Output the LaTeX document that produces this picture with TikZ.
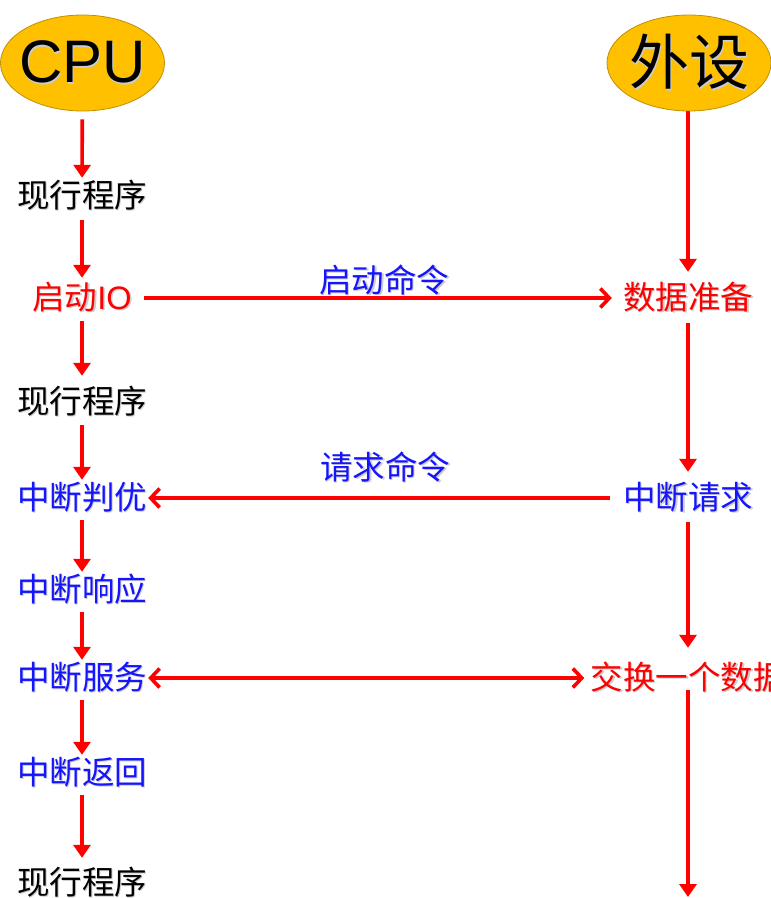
\documentclass[tikz,border=0pt]{standalone}
\usepackage{fontspec}
\setmainfont{Noto Sans CJK SC}
\newfontfamily\latf{Liberation Sans}
\usetikzlibrary{arrows.meta,shapes.geometric}
\definecolor{gold}{HTML}{FFC000}
\definecolor{golddark}{HTML}{BF9000}
\definecolor{myred}{HTML}{FF0000}
\definecolor{myblue}{HTML}{1414FF}
\newcommand\shadtxt[2]{\makebox[0pt][l]{\hspace{1.5pt}\raisebox{-1.5pt}{\color{black!20}#2}}{\color{#1}#2}}
\tikzset{
  head/.style={ellipse, draw=golddark, line width=0.8pt, fill=gold, minimum width=164pt, minimum height=96pt, inner sep=0pt},
  headtxt/.style={inner sep=0pt, font=\fontsize{60}{64}\selectfont},
  lbl/.style={inner sep=0pt, text height=27pt, text depth=5pt, font=\fontsize{32.5}{38}\selectfont},
  varrow/.style={draw=myred, line width=3.6pt, -{Triangle[length=13pt,width=17pt]}},
  harrow/.style={draw=myred, line width=3.6pt, -{Straight Barb[length=9pt,width=19pt,line width=3.6pt]}},
  hboth/.style={draw=myred, line width=3.6pt, {Straight Barb[length=9pt,width=19pt,line width=3.6pt]}-{Straight Barb[length=9pt,width=19pt,line width=3.6pt]}}
}
\begin{document}
\begin{tikzpicture}[x=1pt,y=-1pt]
\useasboundingbox (0,0) rectangle (771,898);
\clip (0,0) rectangle (771,898);
% headers
\node[head, label={[headtxt]center:{\latf\shadtxt{black}{CPU}}}] (cpu) at (82.5,63) {};
\node[head, label={[headtxt]center:{\shadtxt{black}{外设}}}] (dev) at (689,63) {};
% left column
\node[lbl] (l1) at (82,196) {\shadtxt{black}{现行程序}};
\node[lbl] (l2) at (82,298) {\shadtxt{myred}{启动{\latf IO}}};
\node[lbl] (l3) at (82,402) {\shadtxt{black}{现行程序}};
\node[lbl] (l4) at (82,498) {\shadtxt{myblue}{中断判优}};
\node[lbl] (l5) at (82,590) {\shadtxt{myblue}{中断响应}};
\node[lbl] (l6) at (82,678) {\shadtxt{myblue}{中断服务}};
\node[lbl] (l7) at (82,773) {\shadtxt{myblue}{中断返回}};
\node[lbl] (l8) at (82,883) {\shadtxt{black}{现行程序}};
% right column
\node[lbl] (r1) at (688,298) {\shadtxt{myred}{数据准备}};
\node[lbl] (r2) at (688,498) {\shadtxt{myblue}{中断请求}};
\node[lbl] (r3) at (688,678) {\shadtxt{myred}{交换一个数据}};
\coordinate (rend) at (688,898);
\coordinate (rtop) at (688,111);
% labels
\node[lbl] (t1) at (384,281) {\shadtxt{myblue}{启动命令}};
\node[lbl] (t2) at (385,468) {\shadtxt{myblue}{请求命令}};
% left arrows
\draw[varrow, shorten <=8pt, shorten >=2pt] (cpu) -- (l1);
\draw[varrow, shorten <=8pt, shorten >=4pt] (l1) -- (l2);
\draw[varrow, shorten <=7pt, shorten >=10pt] (l2) -- (l3);
\draw[varrow, shorten <=7pt, shorten >=2pt] (l3) -- (l4);
\draw[varrow, shorten <=6pt, shorten >=2pt] (l4) -- (l5);
\draw[varrow, shorten <=6pt, shorten >=2pt] (l5) -- (l6);
\draw[varrow, shorten <=6pt, shorten >=2pt] (l6) -- (l7);
\draw[varrow, shorten <=6pt, shorten >=9pt] (l7) -- (l8);
% right arrows
\draw[varrow, shorten >=10pt] (rtop) -- (r1);
\draw[varrow, shorten <=9pt, shorten >=10pt] (r1) -- (r2);
\draw[varrow, shorten <=8pt, shorten >=14pt] (r2) -- (r3);
\draw[varrow, shorten <=0pt, shorten >=1pt] (r3.south -| rend) ++(0,-4) -- (rend);
% horizontal arrows
\draw[harrow, shorten <=12pt, shorten >=11pt] (l2) -- (r1);
\draw[harrow, shorten <=13pt, shorten >=1pt] (r2) -- (l4);
\draw[hboth, shorten <=1pt, shorten >=6pt] (l6) -- (r3);
\end{tikzpicture}
\end{document}
